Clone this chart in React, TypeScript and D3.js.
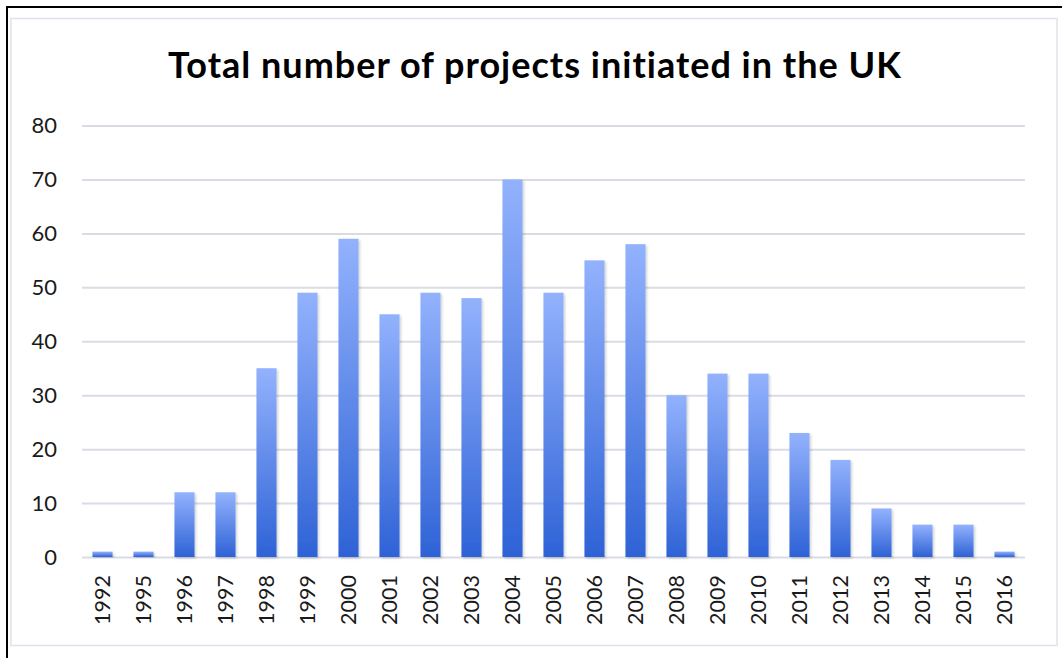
import * as d3 from "d3";
import { useEffect, useRef } from "react";

const years = [
  "1992", "1995", "1996", "1997", "1998", "1999", "2000", "2001", "2002", "2003", "2004", "2005",
  "2006", "2007", "2008", "2009", "2010", "2011", "2012", "2013", "2014", "2015", "2016",
];
const projects = [1, 1, 12, 12, 35, 49, 59, 45, 49, 48, 70, 49, 55, 58, 30, 34, 34, 23, 18, 9, 6, 6, 1];
const yTicks = [0, 10, 20, 30, 40, 50, 60, 70, 80];
const chartTitle = "Total number of projects initiated in the UK";

const App = () => {
  const svgRef = useRef<SVGSVGElement>(null);

  const width = 1062;
  const height = 658;
  const plotLeft = 82;
  const plotRight = 1025;
  const plotTop = 125.5;
  const plotBottom = 557;

  useEffect(() => {
    const svg = d3.select(svgRef.current);
    svg.selectAll("*").remove();

    const x = d3.scaleBand().domain(years).range([plotLeft, plotRight]).paddingInner(0.51).paddingOuter(0.255);
    const y = d3.scaleLinear().domain([0, 80]).range([plotBottom, plotTop]);

    const defs = svg.append("defs");
    const grad = defs
      .append("linearGradient")
      .attr("id", "barGrad")
      .attr("x1", 0)
      .attr("y1", 0)
      .attr("x2", 0)
      .attr("y2", 1);
    grad.append("stop").attr("offset", "0%").attr("stop-color", "#93b2fd");
    grad.append("stop").attr("offset", "100%").attr("stop-color", "#2e62d6");

    const shadow = defs.append("filter").attr("id", "barShadow").attr("x", "-20%").attr("y", "-5%").attr("width", "150%").attr("height", "115%");
    shadow
      .append("feDropShadow")
      .attr("dx", 1.5)
      .attr("dy", 1.5)
      .attr("stdDeviation", 1.2)
      .attr("flood-color", "#000")
      .attr("flood-opacity", 0.18);

    // background + frames
    svg.append("rect").attr("width", width).attr("height", height).attr("fill", "#fff");
    svg
      .append("rect")
      .attr("x", 11)
      .attr("y", 18.5)
      .attr("width", 1046)
      .attr("height", 627)
      .attr("fill", "#fff")
      .attr("stroke", "#dfe2ea")
      .attr("stroke-width", 1.5);
    svg
      .append("path")
      .attr("d", `M${width + 5},7 H7 V${height + 5}`)
      .attr("fill", "none")
      .attr("stroke", "#000")
      .attr("stroke-width", 2);

    // title
    svg
      .append("text")
      .attr("x", 535)
      .attr("y", 78)
      .attr("text-anchor", "middle")
      .style("font-family", "Lato, 'Open Sans', sans-serif")
      .style("font-weight", 700)
      .style("font-size", "36px")
      .style("letter-spacing", "1px")
      .attr("fill", "#000")
      .text(chartTitle);

    // gridlines
    svg
      .append("g")
      .attr("transform", `translate(${plotLeft},0)`)
      .call(d3.axisLeft(y).tickValues(yTicks).tickSize(-(plotRight - plotLeft)).tickFormat(() => ""))
      .call((g) => g.select(".domain").remove())
      .call((g) => g.selectAll("line").attr("stroke", "#d9dce5").attr("stroke-width", 2));

    // y tick labels
    svg
      .append("g")
      .selectAll("text")
      .data(yTicks)
      .enter()
      .append("text")
      .attr("x", 57)
      .attr("y", (d) => y(d))
      .attr("dy", "0.36em")
      .attr("text-anchor", "end")
      .style("font-family", "Lato, 'Open Sans', sans-serif")
      .style("font-size", "22px")
      .attr("fill", "#1a1a1a")
      .text((d) => d);

    // bars
    svg
      .append("g")
      .selectAll("rect")
      .data(projects)
      .enter()
      .append("rect")
      .attr("x", (d, i) => x(years[i]) as number)
      .attr("y", (d) => y(d))
      .attr("width", x.bandwidth())
      .attr("height", (d) => y(0) - y(d))
      .attr("fill", "url(#barGrad)")
      .attr("filter", "url(#barShadow)");

    // x tick labels
    svg
      .append("g")
      .selectAll("text")
      .data(years)
      .enter()
      .append("text")
      .attr("transform", (d) => `translate(${(x(d) as number) + x.bandwidth() / 2},575) rotate(-90)`)
      .attr("dy", "0.36em")
      .attr("text-anchor", "end")
      .style("font-family", "Lato, 'Open Sans', sans-serif")
      .style("font-size", "21.5px")
      .attr("fill", "#1a1a1a")
      .text((d) => d);
  }, []);

  return (
    <svg
      ref={svgRef}
      width={width}
      height={height}
      style={{ position: "absolute", left: 0, top: 0, display: "block" }}
    ></svg>
  );
};

export default App;
